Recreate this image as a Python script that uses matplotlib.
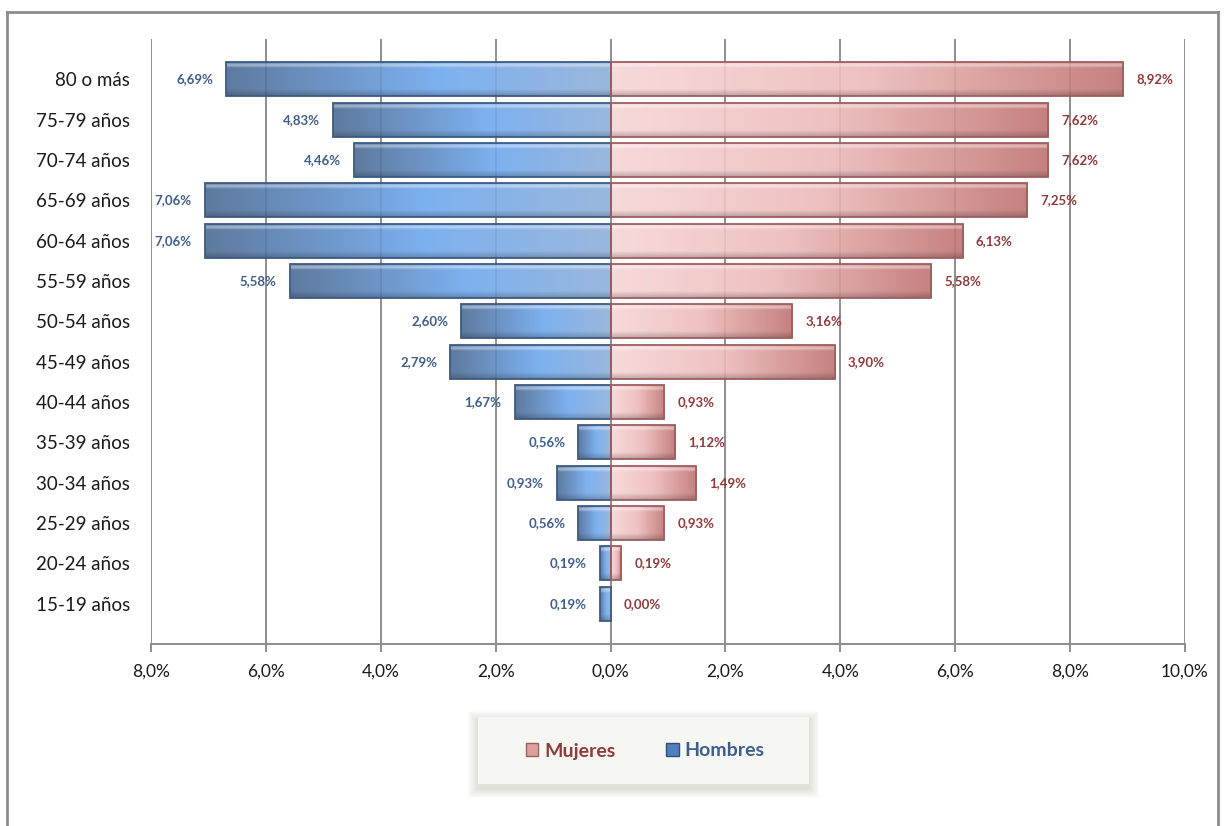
import numpy as np
import matplotlib
matplotlib.use("Agg")
import matplotlib.pyplot as plt
from matplotlib.colors import LinearSegmentedColormap
from matplotlib.patches import Patch, Rectangle
from matplotlib.lines import Line2D
from matplotlib.ticker import FuncFormatter, MultipleLocator

plt.rcParams['font.family'] = ['Lato', 'DejaVu Sans']

categories = ['80 o más', '75-79 años', '70-74 años', '65-69 años', '60-64 años',
              '55-59 años', '50-54 años', '45-49 años', '40-44 años', '35-39 años',
              '30-34 años', '25-29 años', '20-24 años', '15-19 años']
hombres = [6.69, 4.83, 4.46, 7.06, 7.06, 5.58, 2.60, 2.79, 1.67, 0.56, 0.93, 0.56, 0.19, 0.19]
mujeres = [8.92, 7.62, 7.62, 7.25, 6.13, 5.58, 3.16, 3.90, 0.93, 1.12, 1.49, 0.93, 0.19, 0.00]
legend_labels = ['Mujeres', 'Hombres']
x_min, x_max, x_step = -8, 10, 2

W, H = 1225, 826
fig = plt.figure(figsize=(W / 100, H / 100), dpi=100)
ax = fig.add_axes([151 / W, 1 - 644 / H, (1185 - 151) / W, (644 - 39) / H])

male_cmap = LinearSegmentedColormap.from_list(
    'm', [(0, '#4c6b94'), (0.55, '#6ea8ee'), (1, '#8fb0da')])
female_cmap = LinearSegmentedColormap.from_list(
    'f', [(0, '#f7d6d6'), (0.5, '#edbaba'), (1, '#c07272')])


def shade(rgb_row, rows=40):
    img = np.repeat(rgb_row[None, :, :3], rows, axis=0)
    t = np.linspace(0, 1, rows)[:, None, None]
    light = np.clip(1 - np.abs(t - 0.08) / 0.08, 0, 1) * 0.45
    img = img + (1 - img) * light
    dark = np.clip((t - 0.8) / 0.2, 0, 1) * 0.25
    img = img * (1 - dark)
    return np.clip(img, 0, 1)


n = len(categories)
ypos = np.arange(n)
bar_h = 0.84

mbars = ax.barh(ypos, [-v for v in hombres], height=bar_h, facecolor='none',
                edgecolor='#3d5a80', linewidth=1.3, zorder=4)
fbars = ax.barh(ypos, mujeres, height=bar_h, facecolor='none',
                edgecolor='#9e5e5e', linewidth=1.3, zorder=4)

N = 256


def fill(bars, vals, cmap):
    for bar, v in zip(bars, vals):
        if v <= 0:
            bar.set_visible(False)
            continue
        x0, y0 = bar.get_x(), bar.get_y()
        w, h = bar.get_width(), bar.get_height()
        xl, xr = min(x0, x0 + w), max(x0, x0 + w)
        row = cmap(np.linspace(0, 1, N))
        ax.imshow(shade(row), extent=(xl, xr, y0 + h, y0), aspect='auto',
                  zorder=3, alpha=0.9, interpolation='bilinear')


fill(mbars, hombres, male_cmap)
fill(fbars, mujeres, female_cmap)

ax.set_xlim(x_min, x_max)
ax.set_ylim(n, -1)

fmt = lambda v: f"{v:.2f}%".replace('.', ',')
for y, v in zip(ypos, hombres):
    ax.annotate(fmt(v), (-v, y), xytext=(-9.5, 0), textcoords='offset points',
                ha='right', va='center', fontsize=9.5, fontweight='bold',
                color='#3f5f8a', zorder=6)
for y, v in zip(ypos, mujeres):
    ax.annotate(fmt(v), (v, y), xytext=(9.5, 0), textcoords='offset points',
                ha='left', va='center', fontsize=9.5, fontweight='bold',
                color='#8e3b3b', zorder=6)

ax.xaxis.set_major_locator(MultipleLocator(x_step))
ax.xaxis.set_major_formatter(FuncFormatter(lambda x, p: f"{abs(x):.1f}%".replace('.', ',')))
ax.grid(axis='x', color='#8e8e8e', linewidth=1.4, zorder=1)
ax.set_axisbelow(True)
ax.set_yticks(ypos)
ax.set_yticklabels(categories)
ax.tick_params(axis='y', length=0, pad=15, labelsize=13.5, labelcolor='#1a1a1a')
ax.tick_params(axis='x', length=6, width=1.4, color='#8e8e8e', pad=8,
               labelsize=12.5, labelcolor='#1a1a1a')
for s in ['top', 'left', 'right']:
    ax.spines[s].set_visible(False)
ax.spines['bottom'].set_color('#8e8e8e')
ax.spines['bottom'].set_linewidth(1.4)

# legend box with soft shadow
bx0, by0, bw, bh = 478 / W, 1 - 784 / H, 331 / W, 67 / H
for k in range(10):
    off = 10 - k
    fig.patches.append(Rectangle((bx0 - off / W, by0 - (off + 4) / H),
                                 bw + 2 * off / W, bh + 2 * off / H,
                                 transform=fig.transFigure, facecolor='#a8ad90',
                                 edgecolor='none', alpha=0.035, zorder=0))
fig.patches.append(Rectangle((bx0, by0), bw, bh, transform=fig.transFigure,
                             facecolor='#f6f7f2', edgecolor='none', zorder=1))

handles = [Patch(facecolor='#dca0a0', edgecolor='#9e5e5e'),
           Patch(facecolor='#4f7fbf', edgecolor='#2f4f7a')]
leg = fig.legend(handles, legend_labels, loc='center',
                 bbox_to_anchor=(645 / W, 1 - 751 / H), ncol=2, frameon=False,
                 prop={'weight': 'bold', 'size': 14}, handlelength=0.65,
                 handleheight=0.65, handletextpad=0.3, columnspacing=2.6)
leg.get_texts()[0].set_color('#8e3b3b')
leg.get_texts()[1].set_color('#3f5f8a')

# outer frame
for xs, ys in [([7, 7], [12, H + 5]), ([7, 1218], [12, 12]), ([1218, 1218], [12, H + 5])]:
    fig.add_artist(Line2D([x / W for x in xs], [1 - y / H for y in ys],
                          transform=fig.transFigure, color='#8c8c8c', linewidth=2))

fig.savefig('out.png', dpi=100)
